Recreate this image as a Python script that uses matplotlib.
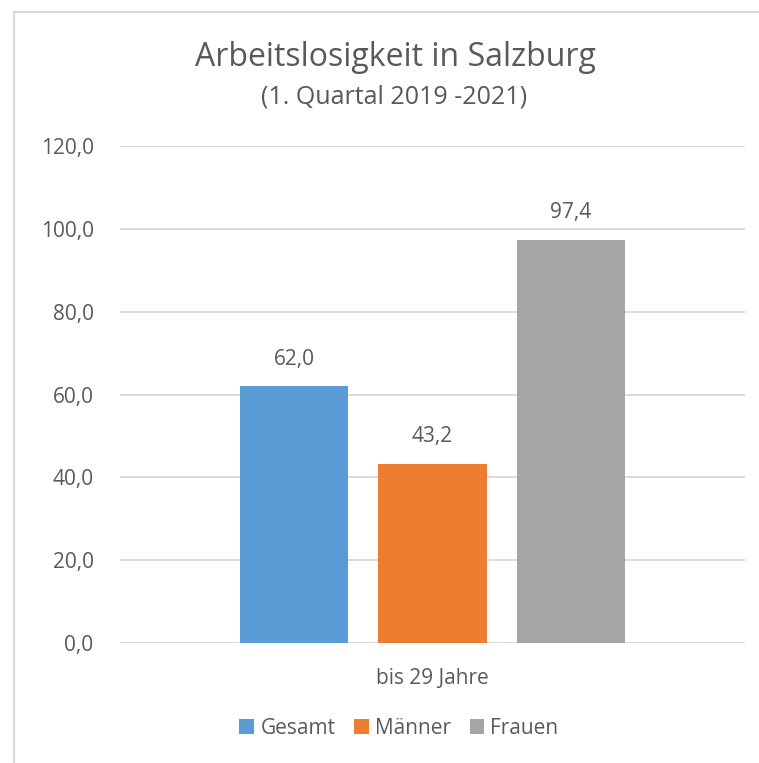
import matplotlib
matplotlib.use("Agg")
import matplotlib.pyplot as plt
from matplotlib.patches import Patch
from matplotlib.lines import Line2D

category = "bis 29 Jahre"
series = ["Gesamt", "Männer", "Frauen"]
values = [62.0, 43.2, 97.4]
colors = ["#5B9BD5", "#ED7D31", "#A5A5A5"]
yticks = [0, 20, 40, 60, 80, 100, 120]

W, H = 759, 763
fig = plt.figure(figsize=(W / 100, H / 100), dpi=100)
plt.rcParams['font.family'] = ['Open Sans', 'DejaVu Sans']
txt = "#595959"

# chart frame
fig.add_artist(Line2D([14 / W, 14 / W], [0, 1 - 12 / H], transform=fig.transFigure, color="#D9D9D9", lw=1.5))
fig.add_artist(Line2D([14 / W, 1], [1 - 12 / H, 1 - 12 / H], transform=fig.transFigure, color="#D9D9D9", lw=1.5))

ax = fig.add_axes([120 / W, 1 - 643 / H, (745 - 120) / W, (643 - 146) / H])
step = 0.221
width = 0.173
offsets = [(i - 1) * step for i in range(len(series))]
for off, v, c in zip(offsets, values, colors):
    ax.bar(off, v, width=width, color=c, zorder=3)
    ax.annotate(f"{v:.1f}".replace(".", ","), (off, v), xytext=(0, 12), textcoords="offset points",
                ha="center", va="bottom", fontsize=15, color=txt)

ax.set_xlim(-0.5, 0.5)
ax.set_ylim(0, 120)
ax.set_yticks(yticks)
ax.set_yticklabels([f"{t:.1f}".replace(".", ",") for t in yticks], fontsize=15, color=txt)
ax.set_xticks([0])
ax.set_xticklabels([category], fontsize=15, color=txt)
ax.tick_params(axis="y", length=0, pad=19)
ax.tick_params(axis="x", length=0, pad=18)
ax.grid(axis="y", color="#D9D9D9", lw=1.3, zorder=0)
for s in ax.spines.values():
    s.set_visible(False)

fig.text(395 / W, 1 - 57 / H, "Arbeitslosigkeit in Salzburg", ha="center", va="center", fontsize=23, color=txt)
fig.text(394 / W, 1 - 97 / H, "(1. Quartal 2019 -2021)", ha="center", va="center", fontsize=18, color=txt)

handles = [Patch(facecolor=c, edgecolor="none") for c in colors]
fig.legend(handles, series, loc="center", bbox_to_anchor=(399 / W, 1 - 728 / H), ncol=3, frameon=False,
           fontsize=15, labelcolor=txt, handlelength=0.7, handleheight=0.7, handletextpad=0.3, columnspacing=0.9)

fig.savefig("out.png", dpi=100)
